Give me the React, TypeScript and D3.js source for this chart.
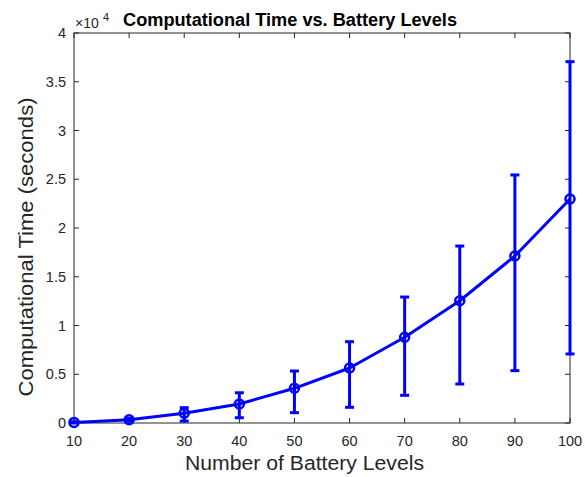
import React from "react";
import * as d3 from "d3";

const levels = [10, 20, 30, 40, 50, 60, 70, 80, 90, 100];
const meanTime = [60, 330, 1000, 1950, 3560, 5640, 8790, 12540, 17130, 22970];
const lowerTime = [0, 200, 200, 540, 1060, 1610, 2840, 4000, 5370, 7080];
const upperTime = [130, 460, 1570, 3100, 5330, 8340, 12920, 18150, 25440, 37060];
const xTicks = [10, 20, 30, 40, 50, 60, 70, 80, 90, 100];
const yTicks = [0, 5000, 10000, 15000, 20000, 25000, 30000, 35000, 40000];

const W = 585;
const H = 477;
const L = 74, R = 570, T = 33, B = 423;
const BLUE = "#0000ff";
const AX = "#262626";
const FONT = "'Liberation Sans', Arial, Helvetica, sans-serif";

export default function App() {
  const x = d3.scaleLinear().domain([10, 100]).range([L, R]);
  const y = d3.scaleLinear().domain([0, 40000]).range([B, T]);
  const line = d3
    .line<number>()
    .x((_, i) => x(levels[i]))
    .y((d) => y(d));
  const fmtY = (v: number) => d3.format("~g")(v / 10000);
  const tl = 5;
  const capW = 4.5;

  return (
    <svg
      width={W}
      height={H}
      style={{ position: "absolute", left: 0, top: 0, background: "#fff" }}
      fontFamily={FONT}
    >
      <rect x={0} y={0} width={W} height={H} fill="#fff" />
      <rect x={L} y={T} width={R - L} height={B - T} fill="none" stroke={AX} strokeWidth={1} />
      {xTicks.map((t) => (
        <g key={"x" + t}>
          <line x1={x(t)} x2={x(t)} y1={B} y2={B - tl} stroke={AX} strokeWidth={1} />
          <line x1={x(t)} x2={x(t)} y1={T} y2={T + tl} stroke={AX} strokeWidth={1} />
          <text x={x(t)} y={446} textAnchor="middle" fontSize={14.5} fill={AX}>
            {t}
          </text>
        </g>
      ))}
      {yTicks.map((t) => (
        <g key={"y" + t}>
          <line x1={L} x2={L + tl} y1={y(t)} y2={y(t)} stroke={AX} strokeWidth={1} />
          <line x1={R} x2={R - tl} y1={y(t)} y2={y(t)} stroke={AX} strokeWidth={1} />
          <text x={66} y={y(t) + 5} textAnchor="end" fontSize={14.5} fill={AX}>
            {fmtY(t)}
          </text>
        </g>
      ))}
      <text x={75} y={28} fontSize={14} fill={AX}>
        ×10
      </text>
      <text x={103} y={21} fontSize={11} fill={AX}>
        4
      </text>
      <text
        x={290}
        y={26}
        textAnchor="middle"
        fontSize={18}
        fontWeight="bold"
        fill="#000"
        textLength={334}
        lengthAdjust="spacingAndGlyphs"
      >
        Computational Time vs. Battery Levels
      </text>
      <text
        x={304.5}
        y={470}
        textAnchor="middle"
        fontSize={20}
        fill={AX}
        textLength={239}
        lengthAdjust="spacingAndGlyphs"
      >
        Number of Battery Levels
      </text>
      <text
        transform={`translate(33,247) rotate(-90)`}
        textAnchor="middle"
        fontSize={20}
        fill={AX}
        textLength={299}
        lengthAdjust="spacingAndGlyphs"
      >
        Computational Time (seconds)
      </text>
      {levels.map((lv, i) => (
        <g key={"e" + lv} stroke={BLUE} strokeWidth={3}>
          <line x1={x(lv)} x2={x(lv)} y1={y(lowerTime[i])} y2={y(upperTime[i])} />
          <line x1={x(lv) - capW} x2={x(lv) + capW} y1={y(lowerTime[i])} y2={y(lowerTime[i])} />
          <line x1={x(lv) - capW} x2={x(lv) + capW} y1={y(upperTime[i])} y2={y(upperTime[i])} />
        </g>
      ))}
      <path d={line(meanTime) || ""} fill="none" stroke={BLUE} strokeWidth={3} strokeLinejoin="round" />
      {levels.map((lv, i) => (
        <circle key={"m" + lv} cx={x(lv)} cy={y(meanTime[i])} r={4.5} fill="none" stroke={BLUE} strokeWidth={2.5} />
      ))}
    </svg>
  );
}
